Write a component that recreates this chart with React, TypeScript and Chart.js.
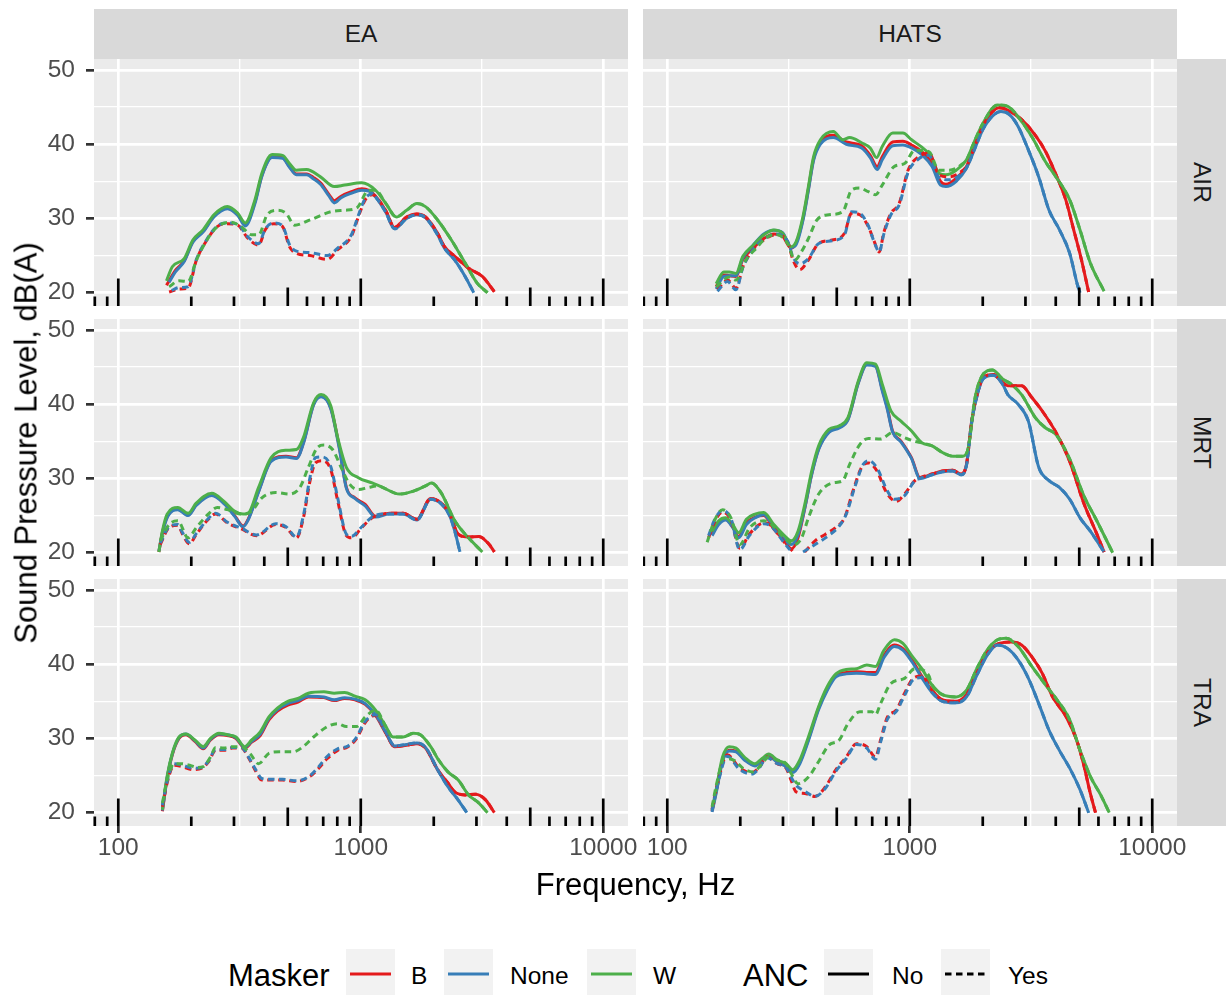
import React, { useEffect, useRef } from 'react';
import { Chart, registerables } from 'chart.js';

Chart.register(...registerables);

type Pt = [number, number | null];
type P = Pt[];

const FACET_COLS = ['EA', 'HATS'];
const FACET_ROWS = ['AIR', 'MRT', 'TRA'];
const MASKERS = ['B', 'None', 'W'];
const ANC_LEVELS = ['No', 'Yes'];
const MASKER_COLORS: Record<string, string> = { B: '#E41A1C', None: '#377EB8', W: '#4DAF4A' };
const X_MAJOR = [100, 1000, 10000];
const X_MINOR = [316.228, 3162.28];
const Y_MAJOR = [20, 30, 40, 50];
const Y_MINOR = [25, 35, 45];
const LOGTICK_MULT = [1, 2, 3, 4, 5, 6, 7, 8, 9];
const LOGTICK_DECADES = [10, 100, 1000, 10000];
const X_MIN = 79.4;
const X_MAX = 12650;
const Y_MIN = 18.21;
const Y_MAX = 51.48;

// ---------- EA / AIR ----------
const EA_AIR_B_NO: P = [[158,21.0],[172,23.0],[187,24.3],[203,26.9],[224,28.3],[248,30.3],[282,31.4],[311,30.5],[334,29.2],[366,32.2],[391,35.8],[431,38.3],[476,38.2],[508,37.0],[542,36.0],[598,36.0],[640,35.5],[682,34.8],[740,33.2],[778,32.4],[830,33.0],[915,33.6],[1010,34.0],[1078,33.8],[1151,33.0],[1270,31.0],[1378,28.8],[1545,30.2],[1704,30.6],[1849,30.2],[2074,28.0],[2214,26.2],[2442,24.9],[2783,23.3],[3172,22.2],[3400,21.0],[3557,20.1]];
const EA_AIR_NONE_NO: P = [[162,21.4],[172,22.8],[187,24.2],[203,26.8],[224,28.2],[248,30.2],[282,31.3],[311,30.4],[334,29.0],[366,32.0],[391,35.7],[431,38.2],[476,38.1],[508,36.9],[542,35.9],[598,35.9],[640,35.3],[682,34.6],[740,33.0],[778,32.1],[830,32.8],[915,33.4],[1010,33.8],[1078,33.7],[1151,32.9],[1270,30.8],[1378,28.6],[1545,30.0],[1704,30.5],[1849,30.1],[2074,27.8],[2214,26.0],[2442,24.4],[2694,22.2],[2924,20.0]];
const EA_AIR_W_NO: P = [[158,21.6],[167,23.5],[187,24.6],[203,27.1],[224,28.5],[248,30.5],[282,31.6],[311,30.7],[334,29.4],[366,32.5],[391,36.1],[431,38.6],[476,38.5],[508,37.4],[542,36.5],[598,36.6],[682,35.6],[778,34.3],[858,34.5],[1010,34.8],[1151,33.8],[1270,32.0],[1400,30.2],[1545,31.1],[1704,32.0],[1849,31.6],[2074,29.8],[2364,27.1],[2694,24.0],[3020,21.3],[3332,20.0]];
const EA_AIR_B_YES: P = [[162,20.1],[178,20.5],[194,20.6],[210,24.4],[232,27.1],[256,28.9],[282,29.3],[311,29.1],[343,27.3],[379,26.4],[404,28.5],[438,29.3],[476,28.9],[508,26.2],[543,25.3],[618,25.0],[728,24.5],[803,25.8],[915,27.6],[977,30.2],[1043,32.5],[1114,33.2]];
const EA_AIR_NONE_YES: P = [[166,20.3],[178,20.7],[194,20.8],[210,24.5],[232,27.2],[256,29.0],[282,29.4],[311,29.2],[343,27.5],[379,26.6],[404,28.6],[438,29.4],[476,29.0],[508,26.5],[543,25.6],[618,25.4],[728,25.0],[803,26.0],[915,27.8],[977,30.4],[1043,32.7],[1114,33.3]];
const EA_AIR_W_YES: P = [[162,20.8],[178,21.6],[194,21.5],[210,24.4],[232,27.1],[256,28.9],[291,29.5],[321,28.9],[355,27.8],[379,27.8],[411,30.5],[453,31.1],[492,30.7],[534,29.1],[618,29.8],[752,30.9],[858,31.1],[962,31.4],[1078,33.8]];

// ---------- HATS / AIR ----------
const HATS_AIR_B_NO: P = [[159,20.8],[171,22.4],[180,22.3],[192,22.2],[205,24.5],[226,26.0],[250,27.3],[275,27.9],[299,27.6],[324,26.0],[340,26.7],[363,30.0],[382,34.0],[401,38.0],[428,40.3],[484,41.2],[547,40.3],[633,39.8],[687,38.5],[734,37.0],[770,38.3],[850,40.3],[937,40.4],[1017,39.9],[1121,39.0],[1236,37.4],[1339,35.0],[1409,34.6],[1554,35.4],[1714,37.0],[1860,39.9],[2018,42.7],[2338,44.9],[2537,44.6],[2895,43.3],[3296,41.2],[3634,39.0],[4008,35.9],[4400,32.5],[4740,28.5],[5100,24.5],[5465,20.1]];
const HATS_AIR_NONE_NO: P = [[159,20.5],[171,22.2],[180,22.3],[192,22.3],[205,24.7],[226,26.4],[250,27.9],[275,28.4],[299,28.1],[324,26.1],[340,26.5],[363,29.8],[382,33.8],[401,37.8],[428,40.0],[484,40.9],[547,40.0],[633,39.5],[687,38.2],[734,36.6],[770,37.9],[850,39.8],[937,39.9],[1017,39.5],[1121,38.6],[1236,37.0],[1339,34.5],[1409,34.3],[1554,35.0],[1714,36.8],[1860,39.5],[2018,42.2],[2377,44.4],[2577,44.0],[2798,42.4],[3087,39.2],[3403,35.6],[3754,31.1],[4140,28.5],[4567,25.3],[4920,21.0],[5040,20.0]];
const HATS_AIR_W_NO: P = [[159,21.2],[171,22.8],[180,22.8],[192,22.6],[205,24.9],[226,26.4],[250,27.8],[275,28.45],[299,28.0],[324,26.2],[340,26.9],[363,30.3],[382,34.3],[401,38.3],[428,40.6],[484,41.7],[529,40.6],[565,40.9],[633,40.2],[687,39.5],[729,38.2],[770,39.7],[850,41.5],[937,41.5],[1017,40.6],[1121,39.6],[1216,38.5],[1320,36.1],[1409,35.9],[1554,36.5],[1714,37.9],[1860,40.6],[2018,43.0],[2300,45.3],[2537,45.1],[2798,43.7],[3188,41.0],[3634,37.6],[4008,35.6],[4567,32.5],[5037,28.45],[5555,24.0],[6330,20.2]];
const HATS_AIR_B_YES: P = [[161,20.4],[177,21.7],[192,20.6],[205,23.5],[226,25.8],[250,27.1],[280,27.8],[314,26.8],[330,24.4],[352,23.1],[382,24.4],[420,26.6],[479,27.1],[538,28.0],[575,30.7],[622,30.5],[675,28.9],[710,27.1],[749,25.5],[780,28.0],[836,30.7],[904,32.0],[984,36.5],[1086,38.3],[1200,38.8],[1320,35.9],[1455,35.6],[1658,36.5]];
const HATS_AIR_NONE_YES: P = [[161,20.2],[177,21.5],[192,20.4],[205,23.4],[226,25.8],[250,27.2],[280,27.9],[314,26.9],[330,24.8],[352,23.9],[382,24.6],[420,26.6],[479,27.0],[538,27.8],[575,30.9],[622,30.7],[675,29.0],[710,27.0],[749,25.5],[780,27.8],[836,30.5],[904,31.8],[984,36.2],[1086,38.0],[1200,38.5],[1320,35.5],[1455,35.2],[1658,36.2]];
const HATS_AIR_W_YES: P = [[159,20.8],[180,22.1],[192,21.7],[211,24.4],[233,26.0],[258,27.5],[284,27.8],[314,26.6],[336,24.4],[357,25.5],[382,27.3],[414,29.8],[464,30.5],[529,30.9],[575,33.8],[622,34.1],[675,33.6],[722,33.2],[770,34.5],[863,37.0],[952,37.4],[1050,39.2],[1200,39.0],[1320,36.5],[1455,36.5],[1658,37.4]];

// ---------- EA / MRT ----------
const EA_MRT_B_NO: P = [[147,20.1],[152,22.7],[160,25.0],[176,25.9],[194,25.1],[210,26.5],[243,27.8],[275,26.6],[302,25.0],[327,23.6],[343,24.5],[379,28.3],[427,32.4],[492,33.0],[543,32.8],[580,34.8],[639,40.0],[686,41.1],[752,39.5],[816,34.2],[872,28.8],[946,27.4],[1043,26.5],[1151,24.9],[1312,25.3],[1496,25.3],[1704,24.5],[1943,27.3],[2143,26.7],[2325,25.2],[2523,22.5],[2783,22.1],[3071,22.2],[3387,21.1],[3557,20.1]];
const EA_MRT_NONE_NO: P = [[147,20.2],[152,22.6],[160,24.9],[176,25.8],[194,25.0],[210,26.4],[243,27.7],[275,26.5],[302,24.9],[327,23.5],[343,24.4],[379,28.2],[427,32.3],[492,32.9],[543,32.7],[580,34.7],[639,39.9],[686,41.0],[752,39.4],[816,34.0],[872,28.7],[946,27.3],[1043,26.3],[1151,24.8],[1312,25.2],[1496,25.2],[1704,24.4],[1943,27.2],[2143,26.6],[2325,25.0],[2442,22.9],[2565,20.1]];
const EA_MRT_W_NO: P = [[147,20.1],[152,22.9],[159,25.2],[176,26.1],[194,25.3],[210,26.7],[243,28.0],[273,26.9],[301,25.6],[327,25.2],[343,25.3],[379,28.8],[427,32.8],[492,33.8],[543,33.9],[580,35.5],[639,40.2],[686,41.3],[752,39.8],[803,35.5],[872,31.5],[977,30.1],[1114,29.4],[1229,28.8],[1447,27.9],[1650,28.3],[1849,29.0],[1956,29.4],[2143,28.1],[2442,24.3],[2783,22.0],[3172,20.1]];
const EA_MRT_B_YES: P = [[149,21.1],[162,23.4],[176,23.7],[184,22.5],[196,21.2],[210,22.5],[232,24.3],[252,25.2],[282,24.0],[322,23.2],[372,22.3],[446,23.8],[492,23.4],[543,22.0],[580,24.7],[618,29.7],[650,32.1],[693,32.4],[752,31.2],[803,27.0],[872,22.3],[915,22.0],[1010,23.4],[1114,24.7],[1229,25.2]];
const EA_MRT_NONE_YES: P = [[149,21.3],[162,23.5],[176,23.8],[184,22.7],[196,21.4],[210,22.6],[232,24.4],[252,25.3],[282,24.1],[322,23.3],[372,22.4],[446,23.9],[492,23.5],[543,22.1],[580,25.0],[618,30.2],[650,32.8],[693,32.9],[752,31.6],[803,27.4],[872,22.5],[915,22.2],[1010,23.5],[1114,24.8],[1229,25.2]];
const EA_MRT_W_YES: P = [[149,21.6],[162,23.8],[176,24.3],[194,22.0],[210,23.4],[235,25.2],[256,26.1],[282,25.8],[322,25.2],[355,25.6],[391,27.4],[446,28.1],[508,27.9],[561,28.8],[608,31.5],[660,34.1],[705,34.5],[765,33.9],[830,31.5],[901,29.2],[977,28.5],[1078,28.8],[1189,29.0]];

// ---------- HATS / MRT ----------
const HATS_MRT_B_NO: P = [[153,22.5],[163,24.0],[174,24.5],[186,23.5],[197,22.2],[212,24.0],[230,24.8],[250,25.0],[275,23.2],[304,21.6],[324,20.5],[346,22.0],[369,26.0],[394,30.6],[421,34.0],[464,36.3],[512,36.9],[556,38.0],[613,42.9],[665,45.4],[722,45.2],[770,42.0],[808,39.5],[849,36.4],[921,35.0],[1016,32.8],[1103,30.1],[1236,30.6],[1364,31.0],[1504,31.1],[1632,30.6],[1714,31.9],[1800,37.7],[1921,42.0],[2018,43.6],[2212,44.0],[2415,42.9],[2537,42.5],[2891,42.5],[3188,40.9],[3516,39.1],[4008,36.2],[4567,32.3],[5203,26.8],[5929,22.4],[6330,20.1]];
const HATS_MRT_NONE_NO: P = [[153,22.3],[163,23.8],[174,24.4],[186,23.4],[197,22.0],[212,23.8],[230,24.7],[250,25.1],[275,23.4],[304,21.8],[324,21.1],[346,22.4],[369,26.0],[394,30.5],[421,33.9],[464,36.2],[512,36.8],[556,37.9],[613,42.8],[665,45.3],[722,45.1],[770,41.8],[808,39.3],[849,36.3],[921,34.9],[1016,32.7],[1103,30.0],[1236,30.5],[1364,30.9],[1504,31.0],[1632,30.5],[1714,31.8],[1800,37.6],[1921,41.9],[2018,43.5],[2212,43.9],[2415,42.7],[2537,41.3],[2798,40.0],[3086,37.7],[3403,31.5],[3754,29.7],[4140,28.8],[4567,27.2],[5037,24.7],[5555,22.9],[6330,20.1]];
const HATS_MRT_W_NO: P = [[153,22.9],[163,24.3],[174,24.7],[186,23.8],[197,22.7],[212,24.5],[230,25.2],[250,25.4],[275,23.8],[304,22.3],[324,21.6],[346,22.9],[369,26.5],[394,31.0],[421,34.4],[464,36.6],[512,37.1],[556,38.2],[613,43.1],[665,45.6],[722,45.4],[770,42.7],[836,39.1],[922,37.7],[1017,36.4],[1121,34.8],[1236,34.4],[1364,33.5],[1504,33.0],[1659,33.0],[1742,34.1],[1860,40.9],[1986,43.8],[2190,44.6],[2415,43.4],[2620,42.7],[2891,41.3],[3294,38.2],[3634,36.8],[4008,35.9],[4567,32.6],[5203,27.8],[5929,24.2],[6868,20.0]];
const HATS_MRT_B_YES: P = [[148,22.0],[156,24.0],[169,25.5],[183,24.4],[199,20.6],[219,22.6],[250,24.0],[267,23.7],[304,21.4],[329,20.2],[340,null],[369,20.1],[407,21.6],[449,22.5],[495,23.4],[538,24.7],[583,28.3],[633,31.5],[676,32.1],[733,31.0],[796,28.3],[878,26.9],[952,27.9],[1050,29.7],[1103,30.1]];
const HATS_MRT_NONE_YES: P = [[148,22.3],[156,24.3],[169,25.7],[183,24.6],[199,20.4],[219,22.4],[250,23.9],[267,23.6],[304,21.3],[326,20.1],[338,null],[363,20.1],[407,21.1],[449,22.0],[512,23.6],[547,25.2],[593,28.8],[643,31.9],[676,32.4],[733,31.4],[809,28.3],[864,27.2],[952,27.7],[1050,29.7],[1103,30.0]];
const HATS_MRT_W_YES: P = [[146,21.4],[156,24.2],[169,25.8],[183,24.7],[199,21.1],[219,23.4],[250,24.3],[267,23.9],[304,22.0],[335,21.1],[358,22.0],[382,24.7],[421,27.9],[480,29.4],[529,29.7],[565,31.9],[623,34.6],[676,35.4],[758,35.3],[849,36.2],[952,35.5],[1050,35.0]];

// ---------- EA / TRA ----------
const EA_TRA_B_NO: P = [[152,20.2],[159,24.6],[167,27.8],[178,30.0],[190,30.5],[207,29.6],[224,28.6],[240,29.8],[260,30.5],[282,30.4],[306,30.0],[332,28.7],[355,29.5],[385,30.4],[418,32.5],[453,33.7],[500,34.5],[551,34.9],[608,35.6],[705,35.5],[777,35.1],[858,35.4],[946,35.2],[1043,34.6],[1151,33.1],[1270,30.7],[1378,28.9],[1545,29.1],[1704,29.3],[1849,28.7],[2074,25.8],[2288,24.0],[2442,22.8],[2694,22.4],[2972,22.5],[3278,21.7],[3557,20.0]];
const EA_TRA_NONE_NO: P = [[152,20.3],[159,24.7],[167,27.9],[178,30.1],[190,30.6],[207,29.7],[224,28.7],[240,29.9],[260,30.6],[282,30.5],[306,30.1],[332,28.8],[355,29.6],[385,30.6],[418,32.7],[453,33.9],[500,34.7],[551,35.1],[608,35.7],[705,35.6],[777,35.2],[858,35.5],[946,35.3],[1043,34.7],[1151,33.2],[1270,30.8],[1378,29.0],[1545,29.2],[1704,29.4],[1849,28.8],[2074,25.8],[2288,23.5],[2523,21.7],[2738,20.0]];
const EA_TRA_W_NO: P = [[152,20.4],[159,24.9],[167,28.0],[178,30.2],[190,30.6],[207,29.8],[224,28.9],[240,30.0],[260,30.7],[282,30.5],[306,30.2],[332,28.9],[355,29.8],[385,30.9],[418,32.9],[453,34.1],[500,35.0],[551,35.4],[608,36.1],[705,36.3],[777,36.1],[858,36.2],[946,35.7],[1043,35.2],[1151,33.8],[1270,31.6],[1355,30.2],[1496,30.2],[1650,30.7],[1761,30.5],[1943,28.9],[2074,27.3],[2288,25.5],[2523,24.4],[2783,22.4],[3071,21.3],[3332,20.0]];
const EA_TRA_B_YES: P = [[152,20.8],[159,24.0],[170,26.4],[184,26.2],[203,25.8],[221,26.0],[236,26.9],[252,28.4],[273,28.4],[296,28.7],[322,28.7],[343,27.5],[366,25.8],[391,24.4],[431,24.4],[476,24.4],[543,24.2],[618,24.9],[671,26.0],[728,27.3],[803,28.4],[886,28.9],[962,30.0],[1027,31.8],[1096,32.9],[1151,33.1]];
const EA_TRA_NONE_YES: P = [[152,21.0],[159,24.2],[170,26.6],[184,26.4],[203,26.0],[221,26.1],[236,27.0],[252,28.5],[273,28.5],[296,28.8],[322,28.8],[343,27.6],[366,26.0],[391,24.6],[431,24.5],[476,24.5],[543,24.3],[618,25.0],[671,26.2],[728,27.6],[803,28.6],[886,29.0],[962,30.2],[1027,32.0],[1096,33.0],[1151,33.2]];
const EA_TRA_W_YES: P = [[152,21.3],[159,24.4],[170,26.6],[181,26.6],[197,26.4],[210,26.1],[224,26.2],[240,27.5],[252,28.8],[273,28.7],[296,28.9],[322,28.9],[349,28.0],[379,26.6],[418,28.0],[461,28.2],[525,28.2],[579,28.9],[639,30.2],[728,31.6],[803,32.0],[872,31.6],[962,31.6],[1043,32.9],[1151,33.8]];

// ---------- HATS / TRA ----------
const HATS_TRA_B_NO: P = [[153,20.2],[159,22.8],[169,27.0],[180,28.4],[192,28.3],[208,27.2],[230,26.4],[246,27.2],[262,27.7],[284,26.9],[309,26.3],[329,25.5],[352,26.8],[382,29.9],[421,34.1],[457,36.7],[496,38.5],[547,38.9],[603,39.0],[665,38.9],[722,38.9],[783,41.2],[864,42.6],[937,42.1],[1017,40.7],[1121,38.4],[1236,36.5],[1364,35.2],[1554,35.0],[1714,35.9],[1890,38.8],[2085,41.5],[2338,42.8],[2620,43.0],[2891,42.6],[3188,41.0],[3516,38.8],[3880,35.6],[4420,32.9],[4875,29.8],[5203,26.6],[5555,22.6],[5835,20.0]];
const HATS_TRA_NONE_NO: P = [[153,20.1],[159,22.6],[169,26.9],[180,28.3],[192,28.2],[208,27.1],[230,26.3],[246,27.1],[262,27.6],[284,26.8],[309,26.2],[329,25.4],[352,26.6],[382,29.7],[421,33.9],[457,36.5],[496,38.3],[547,38.7],[603,38.8],[665,38.7],[722,38.6],[783,40.9],[864,42.4],[937,41.9],[1017,40.4],[1121,38.2],[1236,36.2],[1364,35.0],[1554,34.8],[1714,35.6],[1890,38.5],[2085,41.2],[2300,42.6],[2537,42.1],[2798,40.6],[3086,38.1],[3403,34.7],[3754,31.1],[4140,28.4],[4567,26.0],[5037,23.1],[5465,20.0]];
const HATS_TRA_W_NO: P = [[153,20.4],[159,23.1],[169,27.5],[180,28.9],[192,28.7],[208,27.5],[230,26.6],[246,27.3],[262,27.9],[284,27.1],[309,26.6],[329,25.8],[352,27.1],[382,30.2],[421,34.3],[457,37.0],[496,38.7],[547,39.3],[603,39.4],[665,39.9],[722,39.7],[783,41.9],[864,43.3],[937,42.8],[1017,41.2],[1121,39.4],[1236,37.2],[1364,35.9],[1554,35.6],[1714,36.5],[1890,39.4],[2085,41.9],[2300,43.3],[2495,43.5],[2798,42.4],[3188,39.7],[3634,37.2],[4008,35.4],[4567,32.5],[5037,28.4],[5555,24.9],[6128,22.4],[6649,20.0]];
const HATS_TRA_B_YES: P = [[153,20.5],[160,23.5],[177,27.8],[199,26.0],[223,25.4],[238,26.0],[258,27.5],[284,26.6],[309,26.0],[324,24.4],[340,22.8],[369,22.6],[407,22.2],[449,23.5],[496,25.8],[547,27.5],[603,29.3],[665,28.9],[722,27.5],[758,29.8],[809,32.9],[878,33.8],[952,36.1],[1033,38.1],[1121,38.4]];
const HATS_TRA_NONE_YES: P = [[153,20.3],[160,23.3],[177,27.6],[199,25.8],[223,25.2],[238,25.9],[258,27.4],[284,26.6],[309,26.1],[324,24.8],[340,23.7],[369,22.9],[407,22.2],[449,23.3],[496,25.6],[547,27.3],[603,29.2],[665,28.7],[722,27.2],[758,29.5],[809,32.6],[878,33.6],[952,35.8],[1033,37.9],[1121,38.2]];
const HATS_TRA_W_YES: P = [[153,20.8],[160,24.0],[172,27.3],[190,27.0],[205,26.0],[226,25.5],[246,26.6],[262,27.5],[284,27.1],[309,26.6],[324,25.3],[346,23.9],[382,24.8],[421,26.9],[464,29.1],[512,29.8],[556,32.0],[623,33.6],[698,33.6],[722,33.2],[758,34.7],[836,37.4],[952,38.1],[1050,39.4],[1197,38.5]];

// [ANC=No, ANC=Yes (head; merges with the No curve above its last frequency)]
const PANEL_SERIES: Record<string, Record<string, [P, P]>> = {
  EA_AIR: { B: [EA_AIR_B_NO, EA_AIR_B_YES], None: [EA_AIR_NONE_NO, EA_AIR_NONE_YES], W: [EA_AIR_W_NO, EA_AIR_W_YES] },
  HATS_AIR: { B: [HATS_AIR_B_NO, HATS_AIR_B_YES], None: [HATS_AIR_NONE_NO, HATS_AIR_NONE_YES], W: [HATS_AIR_W_NO, HATS_AIR_W_YES] },
  EA_MRT: { B: [EA_MRT_B_NO, EA_MRT_B_YES], None: [EA_MRT_NONE_NO, EA_MRT_NONE_YES], W: [EA_MRT_W_NO, EA_MRT_W_YES] },
  HATS_MRT: { B: [HATS_MRT_B_NO, HATS_MRT_B_YES], None: [HATS_MRT_NONE_NO, HATS_MRT_NONE_YES], W: [HATS_MRT_W_NO, HATS_MRT_W_YES] },
  EA_TRA: { B: [EA_TRA_B_NO, EA_TRA_B_YES], None: [EA_TRA_NONE_NO, EA_TRA_NONE_YES], W: [EA_TRA_W_NO, EA_TRA_W_YES] },
  HATS_TRA: { B: [HATS_TRA_B_NO, HATS_TRA_B_YES], None: [HATS_TRA_NONE_NO, HATS_TRA_NONE_YES], W: [HATS_TRA_W_NO, HATS_TRA_W_YES] },
};

function withTail(head: P, solid: P): P {
  const last = head[head.length - 1][0] as number;
  return head.concat(solid.filter((p) => (p[0] as number) > last));
}

// ---------- layout ----------
const FONT = "'Liberation Sans', Arial, Helvetica, sans-serif";
const COL_LEFT = [94, 643];
const ROW_TOP = [59, 319, 579];
const PANEL_W = 534;
const PANEL_H = 247;
const Y_AXIS_W = 64;
const X_AXIS_H = 45;
const RIGHT_PAD = 15;
const LINE_W = 3.0;
const GRID_MAJOR_W = 2.7;
const GRID_MINOR_W = 1.35;

const panelPlugin = {
  id: 'panelDecor',
  beforeDraw(chart: any) {
    const { ctx, chartArea: a } = chart;
    ctx.save();
    ctx.fillStyle = '#EBEBEB';
    ctx.fillRect(a.left, a.top, a.right - a.left, a.bottom - a.top);
    ctx.restore();
  },
  afterDatasetsDraw(chart: any) {
    const { ctx, chartArea: a } = chart;
    const xs = chart.scales.x;
    ctx.save();
    ctx.strokeStyle = '#000000';
    ctx.lineWidth = GRID_MAJOR_W;
    ctx.lineCap = 'butt';
    for (const d of LOGTICK_DECADES) {
      for (const m of LOGTICK_MULT) {
        const f = m * d;
        if (f < xs.min || f > xs.max) continue;
        const px = xs.getPixelForValue(f);
        const len = m === 1 ? 27.5 : m === 5 ? 18.5 : 9.5;
        ctx.beginPath();
        ctx.moveTo(px, a.bottom);
        ctx.lineTo(px, a.bottom - len);
        ctx.stroke();
      }
    }
    ctx.restore();
  },
};

function Panel({ col, row }: { col: number; row: number }) {
  const ref = useRef<HTMLCanvasElement | null>(null);
  const isLeft = col === 0;
  const isBottom = row === FACET_ROWS.length - 1;
  const yw = isLeft ? Y_AXIS_W : 0;
  const xh = isBottom ? X_AXIS_H : 0;
  const w = yw + PANEL_W + RIGHT_PAD;
  const h = PANEL_H + xh;

  useEffect(() => {
    const key = `${FACET_COLS[col]}_${FACET_ROWS[row]}`;
    const series = PANEL_SERIES[key];
    const datasets: any[] = [];
    // Chart.js paints dataset 0 last (on top), so build bottom-to-top then reverse.
    for (const anc of ANC_LEVELS) {
      for (const m of MASKERS) {
        const [no, yesHead] = series[m];
        const pts = anc === 'No' ? no : withTail(yesHead, no);
        datasets.push({
          label: `${m} ${anc}`,
          data: pts.map(([x, y]) => ({ x, y })),
          borderColor: MASKER_COLORS[m],
          backgroundColor: MASKER_COLORS[m],
          borderWidth: LINE_W,
          borderDash: anc === 'Yes' ? [6.5, 4.5] : [],
          pointRadius: 0,
          pointHoverRadius: 0,
          fill: false,
          spanGaps: false,
          cubicInterpolationMode: 'monotone',
        });
      }
    }
    datasets.reverse();
    const tickFont = { family: FONT, size: 24.5 };
    const chart = new Chart(ref.current as HTMLCanvasElement, {
      type: 'line',
      data: { datasets },
      plugins: [panelPlugin],
      options: {
        responsive: false,
        maintainAspectRatio: false,
        animation: false,
        events: [],
        layout: { padding: { left: 0, right: RIGHT_PAD, top: 0, bottom: 0 } },
        plugins: { legend: { display: false }, tooltip: { enabled: false } },
        scales: {
          x: {
            type: 'logarithmic',
            position: 'bottom',
            min: X_MIN,
            max: X_MAX,
            afterBuildTicks: (s: any) => {
              s.ticks = [...X_MAJOR, ...X_MINOR].sort((a, b) => a - b).map((v) => ({ value: v }));
            },
            afterFit: (s: any) => {
              s.height = xh;
              s.paddingLeft = 0;
              s.paddingRight = 0;
            },
            ticks: {
              display: isBottom,
              autoSkip: false,
              maxRotation: 0,
              minRotation: 0,
              padding: 1,
              color: '#4D4D4D',
              font: tickFont,
              callback: (v: any) => (X_MAJOR.includes(Number(v)) ? String(v) : ''),
            },
            grid: {
              color: '#FFFFFF',
              lineWidth: (c: any) => (c.tick && X_MAJOR.includes(c.tick.value) ? GRID_MAJOR_W : GRID_MINOR_W),
              drawTicks: isBottom,
              tickLength: 7,
              tickWidth: GRID_MAJOR_W,
              tickColor: (c: any) => (c.tick && X_MAJOR.includes(c.tick.value) ? '#333333' : 'rgba(0,0,0,0)'),
            },
            border: { display: false },
          },
          y: {
            type: 'linear',
            position: 'left',
            min: Y_MIN,
            max: Y_MAX,
            afterBuildTicks: (s: any) => {
              s.ticks = [...Y_MAJOR, ...Y_MINOR].sort((a, b) => a - b).map((v) => ({ value: v }));
            },
            afterFit: (s: any) => {
              s.width = yw;
              s.paddingTop = 0;
              s.paddingBottom = 0;
            },
            ticks: {
              display: isLeft,
              padding: 11,
              color: '#4D4D4D',
              font: tickFont,
              callback: (v: any) => (Y_MAJOR.includes(Number(v)) ? String(v) : ''),
            },
            grid: {
              color: '#FFFFFF',
              lineWidth: (c: any) => (c.tick && Y_MAJOR.includes(c.tick.value) ? GRID_MAJOR_W : GRID_MINOR_W),
              drawTicks: isLeft,
              tickLength: 8,
              tickWidth: GRID_MAJOR_W,
              tickColor: (c: any) => (c.tick && Y_MAJOR.includes(c.tick.value) ? '#333333' : 'rgba(0,0,0,0)'),
            },
            border: { display: false },
          },
        },
      } as any,
    });
    return () => chart.destroy();
  }, []);

  return (
    <canvas
      ref={ref}
      width={w}
      height={h}
      style={{ position: 'absolute', left: COL_LEFT[col] - yw, top: ROW_TOP[row], width: w, height: h }}
    />
  );
}

function KeyBox({ left, color, dashed }: { left: number; color: string; dashed?: boolean }) {
  return (
    <div style={{ position: 'absolute', left, top: 949, width: 49, height: 46, background: '#F2F2F2' }}>
      <svg width={49} height={46} style={{ display: 'block' }}>
        <line x1={4} x2={45} y1={25} y2={25} stroke={color} strokeWidth={3} strokeDasharray={dashed ? '6.5 4.5' : undefined} />
      </svg>
    </div>
  );
}

const txt = (size: number): React.CSSProperties => ({
  position: 'absolute',
  fontFamily: FONT,
  fontSize: size,
  lineHeight: `${size}px`,
  whiteSpace: 'nowrap',
  color: '#000000',
});

export default function App() {
  return (
    <div style={{ position: 'fixed', left: 0, top: 0, width: 1231, height: 995, background: '#FFFFFF', overflow: 'hidden', fontFamily: FONT }}>
      {FACET_COLS.map((c, i) => (
        <div key={c} style={{ position: 'absolute', left: COL_LEFT[i], top: 9, width: PANEL_W, height: 50, background: '#D9D9D9', display: 'flex', alignItems: 'center', justifyContent: 'center', fontSize: 24.5, color: '#1A1A1A', fontFamily: FONT }}>
          {c}
        </div>
      ))}
      {FACET_ROWS.map((r, i) => (
        <div key={r} style={{ position: 'absolute', left: 1177, top: ROW_TOP[i], width: 49, height: PANEL_H, background: '#D9D9D9', display: 'flex', alignItems: 'center', justifyContent: 'center', fontSize: 24.5, color: '#1A1A1A', fontFamily: FONT }}>
          <span style={{ writingMode: 'vertical-rl' }}>{r}</span>
        </div>
      ))}
      {FACET_ROWS.map((r, ri) => FACET_COLS.map((c, ci) => <Panel key={`${c}-${r}`} col={ci} row={ri} />))}
      <div style={{ ...txt(31), left: 94, width: 1083, top: 869, textAlign: 'center' }}>Frequency, Hz</div>
      <div style={{ ...txt(31), left: 25.8, top: 442.5, transform: 'translate(-50%, -50%) rotate(-90deg)' }}>Sound Pressure Level, dB(A)</div>
      <div style={{ ...txt(31), left: 228, top: 960.3 }}>Masker</div>
      <KeyBox left={346} color={MASKER_COLORS.B} />
      <div style={{ ...txt(24.5), left: 411, top: 964 }}>B</div>
      <KeyBox left={444} color={MASKER_COLORS.None} />
      <div style={{ ...txt(24.5), left: 510, top: 964 }}>None</div>
      <KeyBox left={587} color={MASKER_COLORS.W} />
      <div style={{ ...txt(24.5), left: 653, top: 964 }}>W</div>
      <div style={{ ...txt(31), left: 743, top: 960.3 }}>ANC</div>
      <KeyBox left={824} color="#000000" />
      <div style={{ ...txt(24.5), left: 892, top: 964 }}>No</div>
      <KeyBox left={941} color="#000000" dashed />
      <div style={{ ...txt(24.5), left: 1008, top: 964 }}>Yes</div>
    </div>
  );
}
